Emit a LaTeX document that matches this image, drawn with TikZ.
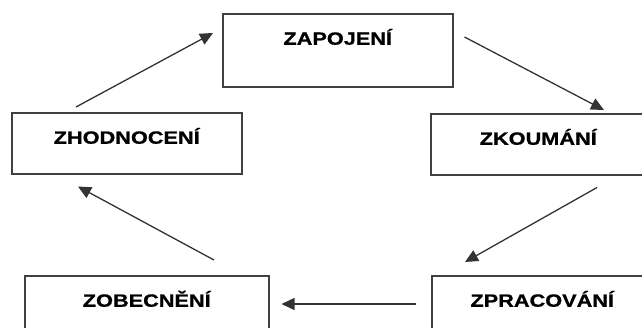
\documentclass[tikz,border=0pt]{standalone}
\usepackage{fontspec}
\newfontfamily\boxfont[FakeStretch=1.22,FakeBold=0.8]{Liberation Sans Bold}
\usetikzlibrary{                          % TikZ libraries
                arrows.meta,              % .
                calc}

\begin{document}
\begin{tikzpicture}[x=1pt,y=-1pt
                    ]
                % define styles
\tikzset{stage/.style={rectangle,
                       draw=black!75,
                       line width=1.5pt,
                       anchor=north west,
                       inner ysep=10pt,
                       text height=21pt,
                       font=\boxfont\fontsize{17.8pt}{19pt}\selectfont,
                       },
         flow/.style={draw=black!80,
                       line width=1.3pt,
                       -{Triangle[length=13pt,width=12pt]},
                       }
}

% frame of the picture
\useasboundingbox (0,0) rectangle (642,327);
\clip (0,0) rectangle (642,327);

% nodes
\node[stage, minimum width=230pt, text depth=32pt] (zap) at (222,13)  {ZAPOJENÍ};
\node[stage, minimum width=215pt, text depth=20pt] (zko) at (430,113) {ZKOUMÁNÍ};
\node[stage, minimum width=221pt, text depth=40pt] (zpr) at (431,275) {ZPRACOVÁNÍ};
\node[stage, minimum width=244pt, text depth=40pt] (zob) at (24,275)  {ZOBECNĚNÍ};
\node[stage, minimum width=230pt, text depth=20pt] (zho) at (11,112)  {ZHODNOCENÍ};

% arrows round the cycle
\draw[flow] ([xshift=11pt,yshift=-24pt]zap.north east) -- ([xshift=174pt,yshift=3pt]zko.north west);
\draw[flow] ([xshift=167pt,yshift=-12pt]zko.south west) -- ([xshift=34pt,yshift=13pt]zpr.north west);
\draw[flow] ([xshift=-15pt,yshift=-29pt]zpr.north west) -- ([xshift=12pt,yshift=-29pt]zob.north east);
\draw[flow] ([xshift=190pt,yshift=15pt]zob.north west)  -- ([xshift=67pt,yshift=-12pt]zho.south west);
\draw[flow] ([xshift=65pt,yshift=5pt]zho.north west)    -- ([xshift=-9pt,yshift=-20pt]zap.north west);

\end{tikzpicture}
\end{document}
